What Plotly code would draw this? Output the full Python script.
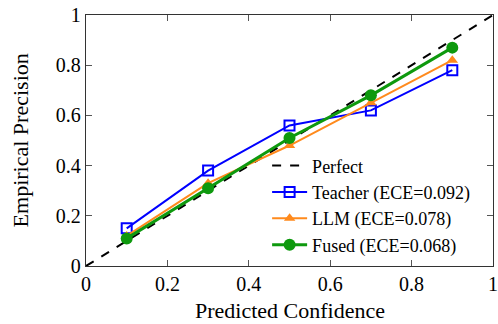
import plotly.graph_objects as go

conf = [0.1, 0.3, 0.5, 0.7, 0.9]
teacher = [0.15, 0.38, 0.56, 0.62, 0.78]
llm = [0.12, 0.33, 0.48, 0.65, 0.82]
fused = [0.11, 0.31, 0.51, 0.68, 0.87]
perfect_x = [0, 1]
perfect_y = [0, 1]
tick_vals = [0, 0.2, 0.4, 0.6, 0.8, 1]
tick_text = ["0", "0.2", "0.4", "0.6", "0.8", "1"]

FONT = "'Liberation Serif', 'Times New Roman', Times, serif"

fig = go.Figure()
fig.add_trace(go.Scatter(x=perfect_x, y=perfect_y, mode="lines", name="Perfect",
                         line=dict(color="black", width=2, dash="dash")))
fig.add_trace(go.Scatter(x=conf, y=teacher, mode="lines+markers", name="Teacher (ECE=0.092)",
                         line=dict(color="#0000FF", width=2),
                         marker=dict(symbol="square-open", size=10, color="#0000FF", line=dict(width=2))))
fig.add_trace(go.Scatter(x=conf, y=llm, mode="lines+markers", name="LLM (ECE=0.078)",
                         line=dict(color="#FF8A1C", width=2),
                         marker=dict(symbol="triangle-up", size=10, color="#FF8A1C")))
fig.add_trace(go.Scatter(x=conf, y=fused, mode="lines+markers", name="Fused (ECE=0.068)",
                         line=dict(color="#0E990E", width=3),
                         marker=dict(symbol="circle", size=12, color="#0E990E")))

axis_common = dict(range=[0, 1], tickvals=tick_vals, ticktext=tick_text,
                   ticks="inside", ticklen=6, tickcolor="#555", mirror="ticks",
                   showline=True, linecolor="#333", linewidth=1.3, showgrid=False,
                   zeroline=False, automargin=False,
                   tickfont=dict(family=FONT, size=20, color="black"))

fig.update_layout(
    width=498, height=324,
    margin=dict(l=86, r=5, t=15, b=58, autoexpand=False),
    paper_bgcolor="white", plot_bgcolor="white",
    font=dict(family=FONT, color="black"),
    xaxis=dict(axis_common),
    yaxis=dict(axis_common),
    legend=dict(x=0.445, y=0.473, xanchor="left", yanchor="top", bgcolor="rgba(0,0,0,0)",
                font=dict(family=FONT, size=18, color="black"), itemwidth=35),
    showlegend=True,
    annotations=[
        dict(text="Predicted Confidence", xref="paper", yref="paper", x=0.5, y=-0.178,
             xanchor="center", yanchor="middle", showarrow=False,
             font=dict(family=FONT, size=22, color="black")),
        dict(text="Empirical Precision", xref="paper", yref="paper", x=-0.16, y=0.5,
             xanchor="center", yanchor="middle", textangle=-90, showarrow=False,
             font=dict(family=FONT, size=22, color="black")),
    ],
)

fig.write_html("out.html", config={"displayModeBar": False})

with open("out.html", "r", encoding="utf-8") as f:
    html = f.read()
html = html.replace("<body>", '<body style="margin:0;padding:0;overflow:hidden">', 1)
with open("out.html", "w", encoding="utf-8") as f:
    f.write(html)
